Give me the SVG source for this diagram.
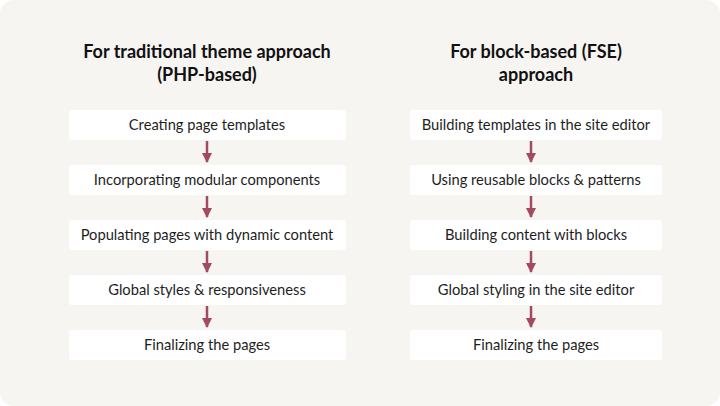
<svg xmlns="http://www.w3.org/2000/svg" width="720" height="406" viewBox="0 0 720 406">
<defs>
<style>
.b{fill:#fff}
.t{font-family:"Lato","Liberation Sans",sans-serif;font-size:14.7px;fill:#1e1e1e;text-anchor:middle}
.h{font-family:"Lato","Liberation Sans",sans-serif;font-size:18px;font-weight:bold;fill:#111;text-anchor:middle}
.c{stroke:#a34a62;stroke-width:2.5;fill:none}
</style>
<marker id="a" viewBox="0 0 10 10" refX="9" refY="5" markerWidth="4" markerHeight="4" orient="auto"><path d="M0,0L10,5L0,10z" fill="#a34a62"/></marker>
</defs>
<rect width="720" height="406" rx="14" fill="#f6f5f1"/>
<text class="h" x="207" y="58">For traditional theme approach</text>
<text class="h" x="207" y="81">(PHP-based)</text>
<text class="h" x="536" y="58">For block-based (FSE)</text>
<text class="h" x="536" y="81">approach</text>
<g id="connectors">
<path class="c" marker-end="url(#a)" d="M207,141V162"/>
<path class="c" marker-end="url(#a)" d="M207,196V217"/>
<path class="c" marker-end="url(#a)" d="M207,251V272"/>
<path class="c" marker-end="url(#a)" d="M207,306V327"/>
<path class="c" marker-end="url(#a)" d="M531,141V162"/>
<path class="c" marker-end="url(#a)" d="M531,196V217"/>
<path class="c" marker-end="url(#a)" d="M531,251V272"/>
<path class="c" marker-end="url(#a)" d="M531,306V327"/>
</g>
<g id="l1"><rect class="b" x="69" y="110" width="277" height="30" rx="3"/><text class="t" x="207" y="130">Creating page templates</text></g>
<g id="l2"><rect class="b" x="69" y="165" width="277" height="30" rx="3"/><text class="t" x="207" y="185">Incorporating modular components</text></g>
<g id="l3"><rect class="b" x="69" y="220" width="277" height="30" rx="3"/><text class="t" x="207" y="240">Populating pages with dynamic content</text></g>
<g id="l4"><rect class="b" x="69" y="275" width="277" height="30" rx="3"/><text class="t" x="207" y="295">Global styles &amp; responsiveness</text></g>
<g id="l5"><rect class="b" x="69" y="330" width="277" height="30" rx="3"/><text class="t" x="207" y="350">Finalizing the pages</text></g>
<g id="r1"><rect class="b" x="410" y="110" width="252" height="30" rx="3"/><text class="t" x="536" y="130">Building templates in the site editor</text></g>
<g id="r2"><rect class="b" x="410" y="165" width="252" height="30" rx="3"/><text class="t" x="536" y="185">Using reusable blocks &amp; patterns</text></g>
<g id="r3"><rect class="b" x="410" y="220" width="252" height="30" rx="3"/><text class="t" x="536" y="240">Building content with blocks</text></g>
<g id="r4"><rect class="b" x="410" y="275" width="252" height="30" rx="3"/><text class="t" x="536" y="295">Global styling in the site editor</text></g>
<g id="r5"><rect class="b" x="410" y="330" width="252" height="30" rx="3"/><text class="t" x="536" y="350">Finalizing the pages</text></g>
</svg>
